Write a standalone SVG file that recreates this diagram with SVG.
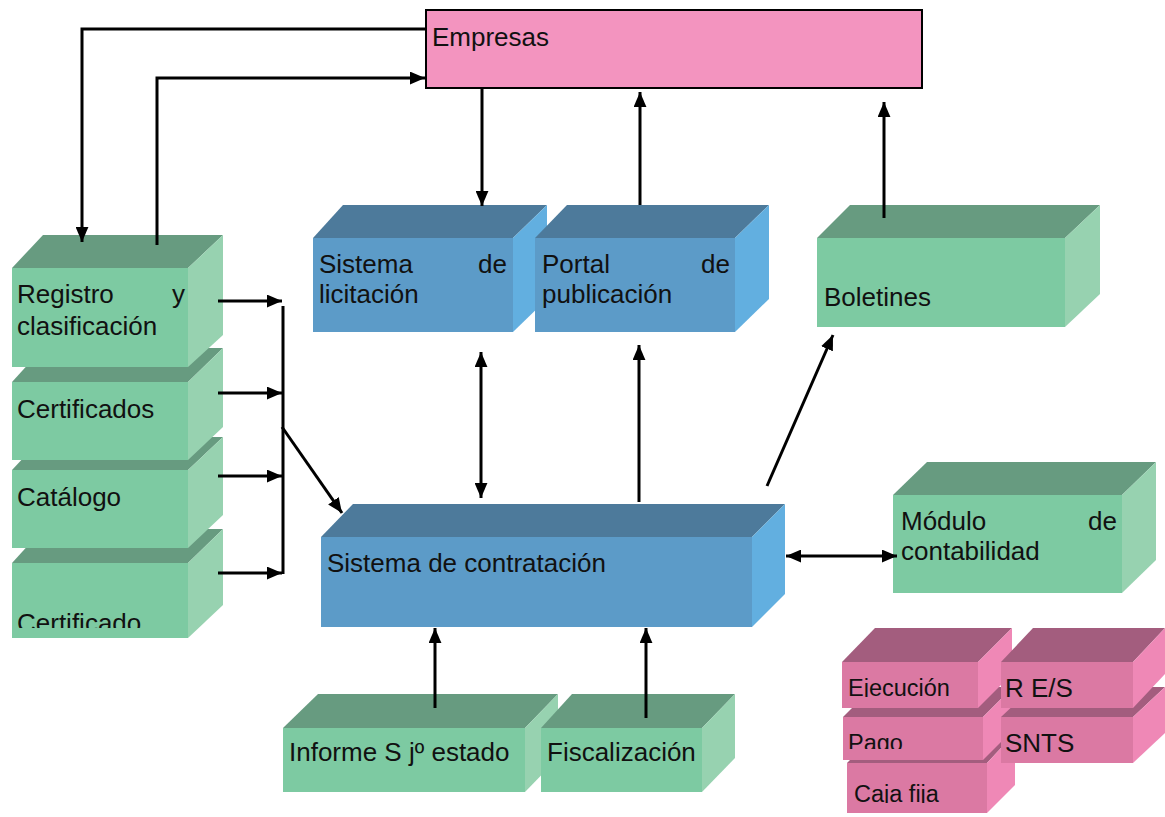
<svg xmlns="http://www.w3.org/2000/svg" width="1165" height="817" viewBox="0 0 1165 817">
<style>
.gf{fill:#7DCAA2}.gt{fill:#679B80}.gs{fill:#97D2B0}
.bf{fill:#5C9BC8}.bt{fill:#4D7A9B}.bs{fill:#62AFE0}
.pf{fill:#DB79A3}.pt{fill:#A35D7E}.ps{fill:#EF88B6}
text{font-family:"Liberation Sans",Arial,sans-serif;font-size:26px;fill:#111}
.sm{font-size:23.5px}
.c{fill:none;stroke:#000;stroke-width:3}
</style>
<defs>
<marker id="a" markerUnits="userSpaceOnUse" viewBox="0 0 14 12" markerWidth="15" markerHeight="13" refX="14" refY="6" orient="auto-start-reverse"><path d="M0,0 L14,6 L0,12 z" fill="#000"/></marker>
<clipPath id="k1"><rect x="0" y="560" width="200" height="68"/></clipPath>
<clipPath id="k2"><rect x="840" y="660" width="140" height="37"/></clipPath>
<clipPath id="k3"><rect x="840" y="715" width="140" height="34"/></clipPath>
<clipPath id="k4"><rect x="845" y="760" width="140" height="43"/></clipPath>
</defs>
<rect width="1165" height="817" fill="#fff"/>

<g id="empresas">
<rect x="426" y="10" width="496" height="78" fill="#F394BF" stroke="#000" stroke-width="2"/>
<text x="432" y="46">Empresas</text>
</g>

<g id="certificado">
<polygon class="gt" points="12,563 43,529 223,529 188,563"/>
<polygon class="gs" points="188,563 223,529 223,605 188,638"/>
<rect class="gf" x="12" y="563" width="176" height="75"/>
<text x="17" y="632" clip-path="url(#k1)">Certificado</text>
</g>
<g id="catalogo">
<polygon class="gt" points="12,470 43,437 223,437 188,470"/>
<polygon class="gs" points="188,470 223,437 223,515 188,548"/>
<rect class="gf" x="12" y="470" width="176" height="78"/>
<text x="17" y="506">Catálogo</text>
</g>
<g id="certificados">
<polygon class="gt" points="12,382 43,348 223,348 188,382"/>
<polygon class="gs" points="188,382 223,348 223,427 188,460"/>
<rect class="gf" x="12" y="382" width="176" height="78"/>
<text x="17" y="418">Certificados</text>
</g>
<g id="registro">
<polygon class="gt" points="12,268 43,235 223,235 188,268"/>
<polygon class="gs" points="188,268 223,235 223,335 188,367"/>
<rect class="gf" x="12" y="268" width="176" height="99"/>
<text x="17" y="303">Registro<tspan x="172">y</tspan></text>
<text x="17" y="335">clasificación</text>
</g>

<g id="licitacion">
<polygon class="bt" points="313,238 343,205 547,205 513,238"/>
<polygon class="bs" points="513,238 547,205 547,299 513,332"/>
<rect class="bf" x="313" y="238" width="200" height="94"/>
<text x="319" y="273">Sistema<tspan x="478">de</tspan></text>
<text x="319" y="303">licitación</text>
</g>
<g id="portal">
<polygon class="bt" points="535,238 567,205 769,205 735,238"/>
<polygon class="bs" points="735,238 769,205 769,299 735,332"/>
<rect class="bf" x="535" y="238" width="200" height="94"/>
<text x="542" y="273">Portal<tspan x="701">de</tspan></text>
<text x="542" y="303">publicación</text>
</g>
<g id="boletines">
<polygon class="gt" points="817,238 850,205 1100,205 1065,238"/>
<polygon class="gs" points="1065,238 1100,205 1100,294 1065,327"/>
<rect class="gf" x="817" y="238" width="248" height="89"/>
<text x="824" y="306">Boletines</text>
</g>
<g id="contratacion">
<polygon class="bt" points="321,537 353,504 785,504 752,537"/>
<polygon class="bs" points="752,537 785,504 785,594 752,627"/>
<rect class="bf" x="321" y="537" width="431" height="90"/>
<text x="327" y="572">Sistema de contratación</text>
</g>
<g id="modulo">
<polygon class="gt" points="893,495 927,462 1156,462 1122,495"/>
<polygon class="gs" points="1122,495 1156,462 1156,560 1122,593"/>
<rect class="gf" x="893" y="495" width="229" height="98"/>
<text x="901" y="530">Módulo<tspan x="1088">de</tspan></text>
<text x="901" y="560">contabilidad</text>
</g>
<g id="informe">
<polygon class="gt" points="283,728 318,694 558,694 525,728"/>
<polygon class="gs" points="525,728 558,694 558,758 525,792"/>
<rect class="gf" x="283" y="728" width="242" height="64"/>
<text x="289" y="761">Informe S jº estado</text>
</g>
<g id="fiscalizacion">
<polygon class="gt" points="541,728 572,694 735,694 702,728"/>
<polygon class="gs" points="702,728 735,694 735,758 702,792"/>
<rect class="gf" x="541" y="728" width="161" height="64"/>
<text x="547" y="761">Fiscalización</text>
</g>

<g id="caja">
<polygon class="pt" points="847,763 877,733 1015,733 987,763"/>
<polygon class="ps" points="987,763 1015,733 1015,785 987,813"/>
<rect class="pf" x="847" y="763" width="140" height="50"/>
<text class="sm" x="854" y="802" clip-path="url(#k4)">Caja fija</text>
</g>
<g id="pago">
<polygon class="pt" points="843,717 873,687 1013,687 983,717"/>
<polygon class="ps" points="983,717 1013,687 1013,730 983,760"/>
<rect class="pf" x="843" y="717" width="140" height="43"/>
<text class="sm" x="848" y="751" clip-path="url(#k3)">Pago</text>
</g>
<g id="ejecucion">
<polygon class="pt" points="842,662 875,628 1012,628 978,662"/>
<polygon class="ps" points="978,662 1012,628 1012,674 978,708"/>
<rect class="pf" x="842" y="662" width="136" height="46"/>
<text class="sm" x="848" y="696" clip-path="url(#k2)">Ejecución</text>
</g>
<g id="snts">
<polygon class="pt" points="1001,717 1033,687 1165,687 1133,717"/>
<polygon class="ps" points="1133,717 1165,687 1165,733 1133,763"/>
<rect class="pf" x="1001" y="717" width="132" height="46"/>
<text x="1005" y="752">SNTS</text>
</g>
<g id="res">
<polygon class="pt" points="1001,662 1033,628 1165,628 1133,662"/>
<polygon class="ps" points="1133,662 1165,628 1165,674 1133,708"/>
<rect class="pf" x="1001" y="662" width="132" height="46"/>
<text x="1005" y="697">R E/S</text>
</g>

<g id="connectors">
<polyline class="c" points="425,29 82,29 82,242" marker-end="url(#a)"/>
<polyline class="c" points="157,245 157,78 425,78" marker-end="url(#a)"/>
<line class="c" x1="482" y1="88" x2="482" y2="206" marker-end="url(#a)"/>
<line class="c" x1="640" y1="205" x2="640" y2="92" marker-end="url(#a)"/>
<line class="c" x1="884" y1="218" x2="884" y2="102" marker-end="url(#a)"/>
<line class="c" x1="283" y1="306" x2="283" y2="574"/>
<line class="c" x1="218" y1="301" x2="282" y2="301" marker-end="url(#a)"/>
<line class="c" x1="218" y1="393" x2="282" y2="393" marker-end="url(#a)"/>
<line class="c" x1="218" y1="476" x2="282" y2="476" marker-end="url(#a)"/>
<line class="c" x1="218" y1="573" x2="282" y2="573" marker-end="url(#a)"/>
<line class="c" x1="282" y1="427" x2="342" y2="513" marker-end="url(#a)"/>
<line class="c" x1="481" y1="352" x2="481" y2="498" marker-start="url(#a)" marker-end="url(#a)"/>
<line class="c" x1="639" y1="502" x2="639" y2="345" marker-end="url(#a)"/>
<line class="c" x1="767" y1="486" x2="833" y2="335" marker-end="url(#a)"/>
<line class="c" x1="786" y1="556" x2="897" y2="556" marker-start="url(#a)" marker-end="url(#a)"/>
<line class="c" x1="435" y1="708" x2="435" y2="628" marker-end="url(#a)"/>
<line class="c" x1="646" y1="718" x2="646" y2="628" marker-end="url(#a)"/>
</g>
</svg>
